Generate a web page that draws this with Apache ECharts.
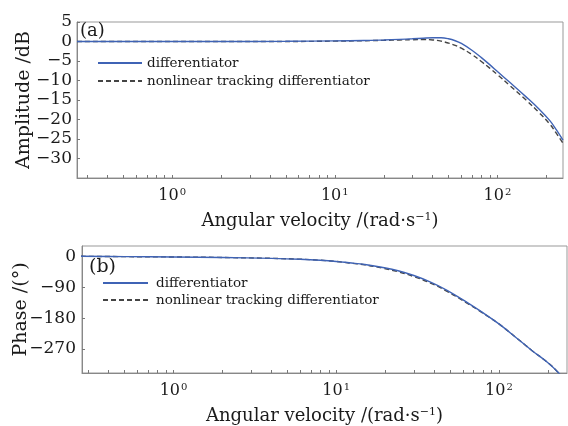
<!DOCTYPE html>
<html>
<head>
<meta charset="utf-8">
<script src="https://cdn.jsdelivr.net/npm/echarts@6/dist/echarts.min.js"></script>
<style>
  html, body { margin: 0; padding: 0; background: #fff; }
  #main { width: 568px; height: 426px; }
</style>
</head>
<body>
<div id="main"></div>
<script>
// 图例名称
var seriesNames = ['differentiator', 'nonlinear tracking differentiator'];

// (a) 幅频特性: 频率点 (rad/s) 与幅值 (dB)
var ampFreq = [0.26, 0.5, 1, 2, 5, 10, 15, 20, 25, 30, 35, 40, 45, 50, 55, 60, 70, 80, 90, 100, 120, 150, 180, 210, 230, 253];
var ampDiff = [0, 0, 0, 0, 0.05, 0.15, 0.25, 0.4, 0.55, 0.7, 0.85, 0.95, 0.95, 0.7, 0.2, -0.5, -2.3, -4.2, -6.0, -7.7, -10.6, -14.2, -17.3, -20.3, -22.6, -25.3];
var ampTd = [0, 0, 0, 0, 0, 0.1, 0.2, 0.3, 0.4, 0.45, 0.5, 0.4, 0.1, -0.4, -1.0, -1.7, -3.4, -5.2, -6.9, -8.5, -11.4, -15.0, -18.2, -21.2, -23.5, -26.1];

// (b) 相频特性: 频率点 (rad/s) 与相位 (°)
var phFreq = [0.27, 0.5, 1, 2, 4, 6, 8, 10, 12, 15, 19, 24, 30, 38, 48, 64, 80, 100, 130, 160, 200, 233, 260];
var phDiff = [0, -1, -2, -3.5, -6, -8.5, -11.5, -15, -19, -24, -32, -42, -56, -75, -99, -135, -165, -197, -240, -275, -310, -340, -370];
var phTd = [0, -1, -2, -3.5, -6, -8.5, -11.5, -15, -19.5, -25, -34, -45, -59, -78, -102, -137, -166, -197, -240, -275, -310, -340, -370];

// 坐标轴刻度
var xMajorTicks = [1, 10, 100];
var xTicks = [0.3, 0.4, 0.5, 0.6, 0.7, 0.8, 0.9, 1, 2, 3, 4, 5, 6, 7, 8, 9, 10, 20, 30, 40, 50, 60, 70, 80, 90, 100, 200];
var phTicks = [0, -90, -180, -270];

var FONT = 'DejaVu Serif';
var TXT = '#1a1a1a';

function pairs(xs, ys) {
    var d = [];
    for (var i = 0; i < xs.length; i++) {
        d.push([xs[i], ys[i]]);
    }
    return d;
}

function expLabel(v) {
    var e = Math.round(Math.log(v) / Math.LN10);
    return '{b|10}{s|' + e + '}';
}

function minus(v) {
    return String(v).replace('-', '\u2212');
}

var supRich = {
    b: { fontFamily: FONT, fontSize: 16, color: TXT },
    s: { fontFamily: FONT, fontSize: 10, color: TXT, verticalAlign: 'top', padding: [0, 0, 7, 1] }
};

function xAxisOf(gridIndex, min, max) {
    return {
        type: 'log',
        gridIndex: gridIndex,
        min: min,
        max: max,
        name: 'Angular velocity /(rad\u00b7s{s|\u22121})',
        nameLocation: 'middle',
        nameGap: 34,
        nameMoveOverlap: false,
        nameTextStyle: {
            fontFamily: FONT, fontSize: 18, color: TXT,
            rich: { s: { fontFamily: FONT, fontSize: 11, color: TXT, verticalAlign: 'top', padding: [0, 0, 8, 0] } }
        },
        axisLine: { show: true, onZero: false, lineStyle: { color: '#888', width: 1 } },
        axisTick: { show: true, inside: true, length: 3, customValues: xTicks, lineStyle: { color: '#777' } },
        axisLabel: { customValues: xMajorTicks, formatter: expLabel, rich: supRich, margin: 9 },
        splitLine: { show: false },
        minorTick: { show: false }
    };
}

var option = {
    animation: false,
    backgroundColor: '#fff',
    title: [
        { text: '(a)', left: 80, top: 22, padding: 0, textStyle: { fontFamily: FONT, fontSize: 18, fontWeight: 'normal', color: TXT } },
        { text: '(b)', left: 89, top: 258, padding: 0, textStyle: { fontFamily: FONT, fontSize: 19, fontWeight: 'normal', color: TXT } }
    ],
    legend: [
        {
            data: seriesNames, orient: 'vertical', left: 97, top: 56, padding: 0,
            itemWidth: 44, itemHeight: 14, itemGap: 4,
            itemStyle: { opacity: 0 },
            textStyle: { fontFamily: FONT, fontSize: 13.5, color: TXT }
        },
        {
            data: seriesNames, orient: 'vertical', left: 102, top: 276, padding: 0,
            itemWidth: 45, itemHeight: 14, itemGap: 3,
            itemStyle: { opacity: 0 },
            textStyle: { fontFamily: FONT, fontSize: 13.5, color: TXT, padding: [0, 0, 0, 3] }
        }
    ],
    grid: [
        { left: 77, top: 22, right: 5, bottom: 248, outerBoundsMode: 'none', show: true, borderColor: '#999', borderWidth: 1 },
        { left: 82, top: 246, right: 1, bottom: 53, outerBoundsMode: 'none', show: true, borderColor: '#999', borderWidth: 1 }
    ],
    xAxis: [xAxisOf(0, 0.26, 253), xAxisOf(1, 0.274, 262)],
    yAxis: [
        {
            type: 'value', gridIndex: 0, min: -35, max: 5, interval: 5,
            name: 'Amplitude /dB', nameLocation: 'middle', nameGap: 43, nameMoveOverlap: false,
            nameTextStyle: { fontFamily: FONT, fontSize: 19, color: TXT },
            axisLine: { show: true, lineStyle: { color: '#888' } },
            axisTick: { show: true, inside: true, length: 3, lineStyle: { color: '#777' } },
            axisLabel: { showMinLabel: false, formatter: minus, fontFamily: FONT, fontSize: 17, color: TXT, margin: 5 },
            splitLine: { show: false }
        },
        {
            type: 'value', gridIndex: 1, min: -340, max: 30,
            name: 'Phase /(\u00b0)', nameLocation: 'middle', nameGap: 51, nameMoveOverlap: false,
            nameTextStyle: { fontFamily: FONT, fontSize: 19, color: TXT },
            axisLine: { show: true, lineStyle: { color: '#888' } },
            axisTick: { show: true, inside: true, length: 3, customValues: phTicks, lineStyle: { color: '#777' } },
            axisLabel: { customValues: phTicks, formatter: minus, fontFamily: FONT, fontSize: 17, color: TXT, margin: 6 },
            splitLine: { show: false }
        }
    ],
    series: [
        {
            name: seriesNames[0], type: 'line', xAxisIndex: 0, yAxisIndex: 0,
            symbol: 'none', smooth: 0.4, z: 3,
            lineStyle: { color: '#3f63b5', width: 1.4 },
            itemStyle: { color: '#3f63b5' },
            data: pairs(ampFreq, ampDiff)
        },
        {
            name: seriesNames[1], type: 'line', xAxisIndex: 0, yAxisIndex: 0,
            symbol: 'none', smooth: 0.4, z: 2,
            lineStyle: { color: '#444', width: 1.4, type: [5, 3] },
            itemStyle: { color: '#444' },
            data: pairs(ampFreq, ampTd)
        },
        {
            name: seriesNames[0], type: 'line', xAxisIndex: 1, yAxisIndex: 1,
            symbol: 'none', smooth: 0.4, z: 3,
            lineStyle: { color: '#3f63b5', width: 1.4 },
            itemStyle: { color: '#3f63b5' },
            data: pairs(phFreq, phDiff)
        },
        {
            name: seriesNames[1], type: 'line', xAxisIndex: 1, yAxisIndex: 1,
            symbol: 'none', smooth: 0.4, z: 2,
            lineStyle: { color: '#444', width: 1.4, type: [5, 3] },
            itemStyle: { color: '#444' },
            data: pairs(phFreq, phTd)
        }
    ]
};

var myChart = echarts.init(document.getElementById('main'));
myChart.setOption(option);
</script>
</body>
</html>
